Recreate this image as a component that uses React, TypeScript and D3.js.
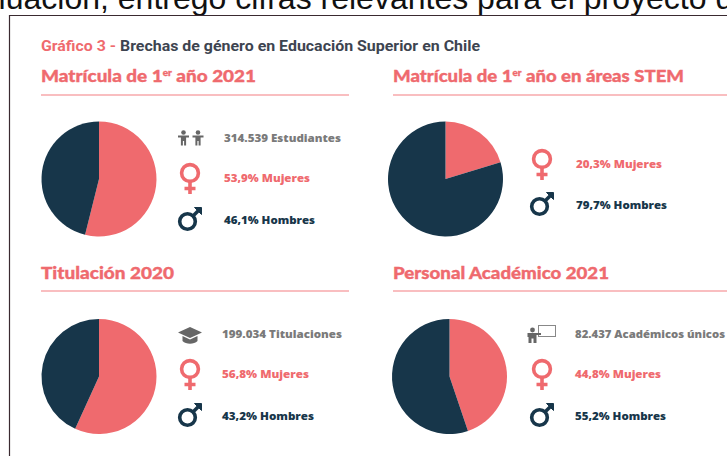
import React from 'react'
import * as d3 from 'd3'

const PINK = '#ef6a6e'
const NAVY = '#17364a'
const GREY = '#7a7a7a'

const panelTitles = ['Matrícula de 1er año 2021', 'Matrícula de 1er año en áreas STEM', 'Titulación 2020', 'Personal Académico 2021']
const mujeres = [53.9, 20.3, 56.8, 44.8]
const hombres = [46.1, 79.7, 43.2, 55.2]
const totals = ['314.539 Estudiantes', null, '199.034 Titulaciones', '82.437 Académicos únicos']
const totalIcons = ['people', null, 'cap', 'teacher']
const fmt = (v: number) => v.toFixed(1).replace('.', ',') + '%'

// layout of each panel
const layout = [
  { x0: 41, x1: 349, titleEnd: 256, base: 82, rule: 95, cx: 99, cy: 179, iconX: 190, textX: 224, textEnd: [341, 310, 315], rows: [138, 178, 220] },
  { x0: 393, x1: 727, titleEnd: 684, base: 82, rule: 95, cx: 445.5, cy: 179, iconX: 542, textX: 576, textEnd: [0, 662, 667], rows: [0, 164, 205] },
  { x0: 41, x1: 349, titleEnd: 174, base: 279, rule: 291, cx: 99, cy: 376.5, iconX: 190, textX: 222, textEnd: [342, 309, 314], rows: [334, 374, 416] },
  { x0: 393, x1: 727, titleEnd: 609, base: 279, rule: 291, cx: 449.5, cy: 376.5, iconX: 542, textX: 575, textEnd: [725, 661, 666], rows: [334, 374, 416] },
]

const pie = d3.pie<number>().sort(null).value(d => d)
const arc = d3.arc<d3.PieArcDatum<number>>().innerRadius(0).outerRadius(57.5)

const Female = ({ x, y }: { x: number; y: number }) => (
  <g transform={`translate(${x},${y})`} fill="none" stroke={PINK} strokeWidth={3.6}>
    <circle cx={0} cy={-5} r={8.4} />
    <path d="M0 4V16M-5.5 10.5H5.5" />
  </g>
)

const Male = ({ x, y }: { x: number; y: number }) => (
  <g transform={`translate(${x},${y})`} fill="none" stroke={NAVY} strokeWidth={3.6}>
    <circle cx={-2.5} cy={1.5} r={7.8} />
    <path d="M3 -4L9.5 -10.5" />
    <path d="M4.5 -12.5H11.5V-5.5Z" fill={NAVY} strokeWidth={1} />
  </g>
)

const Person = ({ x, y }: { x: number; y: number }) => (
  <g transform={`translate(${x},${y})`} fill="#666">
    <circle cx={0} cy={-5.5} r={2.3} />
    <path d="M-5.5 -2.5H5.5V-0.5H2.6V7.5H0.6V3H-0.6V7.5H-2.6V-0.5H-5.5Z" />
  </g>
)

const TotalIcon = ({ kind, x, y }: { kind: string; x: number; y: number }) => {
  if (kind === 'people') {
    return (
      <g>
        <Person x={x - 6.5} y={y} />
        <Person x={x + 8} y={y} />
      </g>
    )
  }
  if (kind === 'cap') {
    return (
      <g transform={`translate(${x},${y})`} fill="#666">
        <path d="M0 -7L12 -1.5L0 4L-12 -1.5Z" />
        <path d="M-7.5 2L0 5.6L7.5 2V7C4 10.5 -4 10.5 -7.5 7Z" />
      </g>
    )
  }
  return (
    <g transform={`translate(${x},${y})`}>
      <rect x={-3.5} y={-8.5} width={17} height={11} fill="#fff" stroke="#888" strokeWidth={1} />
      <circle cx={-9.5} cy={-4} r={2.4} fill="#666" />
      <path d="M-14.5 -1H-1V1H-5.5V9H-8.5V4.5H-10.5V9H-13.5V3H-14.5Z" fill="#666" />
    </g>
  )
}

const Heading = ({ label, x, end, y }: { label: string; x: number; end: number; y: number }) => {
  const parts = label.split('1er')
  return (
    <text x={x} y={y} fill={PINK} stroke={PINK} strokeWidth={0.35} fontFamily="Lato" fontWeight={900} fontSize={17} textLength={end - x} lengthAdjust="spacingAndGlyphs">
      {parts.length === 2 ? (
        <>
          {parts[0]}1<tspan fontSize={9} dy={-6}>er</tspan>
          <tspan dy={6}>{parts[1]}</tspan>
        </>
      ) : (
        label
      )}
    </text>
  )
}

export default function App() {
  return (
    <svg width={727} height={456} style={{ position: 'absolute', left: 0, top: 0, background: '#fff' }}>
      <text x={-53} y={9} fontFamily="Liberation Sans" fontSize={32} fill="#111">evaluación, entregó cifras relevantes para el proyecto de</text>
      <path d="M9.5 456V15.5H727" fill="none" stroke="#3a2a30" strokeWidth={1.2} />

      <text x={41} y={51} fill={PINK} fontFamily="Roboto" fontWeight={700} fontSize={15} textLength={75} lengthAdjust="spacingAndGlyphs">Gráfico 3 -</text>
      <text x={120} y={51} fill="#3d4450" fontFamily="Roboto" fontWeight={700} fontSize={15} textLength={360} lengthAdjust="spacingAndGlyphs">Brechas de género en Educación Superior en Chile</text>

      {panelTitles.map((label, i) => {
        const p = layout[i]
        const slices = pie([mujeres[i], hombres[i]])
        return (
          <g key={label}>
            <Heading label={label} x={p.x0} end={p.titleEnd} y={p.base} />
            <line x1={p.x0} x2={p.x1} y1={p.rule} y2={p.rule} stroke="#f7a9ab" strokeWidth={1.6} />
            <g transform={`translate(${p.cx},${p.cy})`}>
              {slices.map((s, j) => (
                <path key={j} d={arc(s) ?? ''} fill={j === 0 ? PINK : NAVY} />
              ))}
            </g>
            {totals[i] && (
              <>
                <TotalIcon kind={totalIcons[i] as string} x={p.iconX} y={p.rows[0]} />
                <text x={p.textX} y={p.rows[0] + 4} fill={GREY} fontFamily="Open Sans" fontWeight={800} fontSize={10.5} textLength={p.textEnd[0] - p.textX} lengthAdjust="spacingAndGlyphs">{totals[i]}</text>
              </>
            )}
            <Female x={p.iconX} y={p.rows[1]} />
            <text x={p.textX} y={p.rows[1] + 4} fill={PINK} fontFamily="Open Sans" fontWeight={800} fontSize={10.5} textLength={p.textEnd[1] - p.textX} lengthAdjust="spacingAndGlyphs">{fmt(mujeres[i])} Mujeres</text>
            <Male x={p.iconX} y={p.rows[2]} />
            <text x={p.textX} y={p.rows[2] + 4} fill={NAVY} fontFamily="Open Sans" fontWeight={800} fontSize={10.5} textLength={p.textEnd[2] - p.textX} lengthAdjust="spacingAndGlyphs">{fmt(hombres[i])} Hombres</text>
          </g>
        )
      })}
    </svg>
  )
}
